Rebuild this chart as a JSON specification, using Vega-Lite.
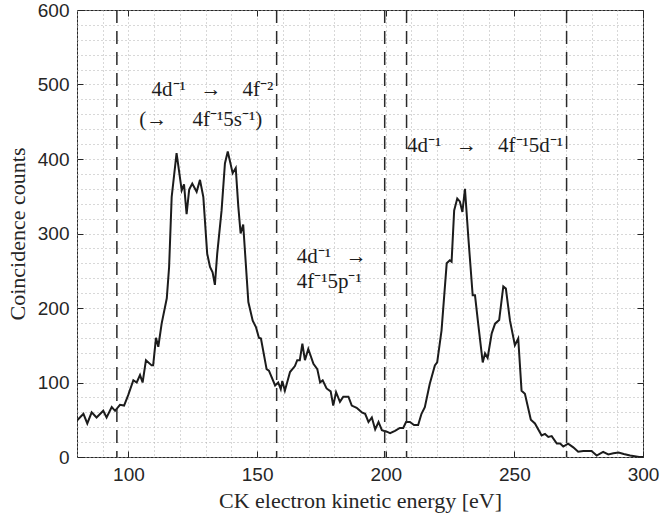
{
  "$schema": "https://vega.github.io/schema/vega-lite/v6.json",
  "width": 566,
  "height": 447,
  "autosize": {"type": "none"},
  "padding": {"left": 77, "top": 10, "right": 18, "bottom": 65},
  "background": "white",
  "config": {
    "view": {"stroke": "#262626", "strokeWidth": 1},
    "axis": {"domain": false}
  },
  "datasets": {
    "curve": [
      {"E": 80, "C": 49}, {"E": 82.5, "C": 58}, {"E": 84, "C": 45}, {"E": 85.7, "C": 60},
      {"E": 87.6, "C": 53}, {"E": 90.2, "C": 62}, {"E": 91.5, "C": 53}, {"E": 93.5, "C": 67},
      {"E": 94.8, "C": 62}, {"E": 96.7, "C": 70}, {"E": 98.3, "C": 69}, {"E": 99.9, "C": 83},
      {"E": 101.9, "C": 103}, {"E": 103.2, "C": 100}, {"E": 104.5, "C": 110}, {"E": 105.5, "C": 100},
      {"E": 106.8, "C": 130}, {"E": 109.0, "C": 123}, {"E": 109.6, "C": 123}, {"E": 110.7, "C": 160},
      {"E": 111.6, "C": 148}, {"E": 112.9, "C": 179}, {"E": 114.9, "C": 213}, {"E": 115.8, "C": 255},
      {"E": 116.8, "C": 349}, {"E": 118.7, "C": 408}, {"E": 120.7, "C": 358}, {"E": 121.6, "C": 366},
      {"E": 122.6, "C": 326}, {"E": 123.6, "C": 359}, {"E": 124.8, "C": 367}, {"E": 126.5, "C": 356},
      {"E": 127.8, "C": 372}, {"E": 129.1, "C": 349}, {"E": 130.6, "C": 273}, {"E": 131.7, "C": 255},
      {"E": 132.7, "C": 248}, {"E": 133.6, "C": 231}, {"E": 134.5, "C": 273}, {"E": 136.2, "C": 331},
      {"E": 137.5, "C": 394}, {"E": 138.6, "C": 410}, {"E": 140.5, "C": 381}, {"E": 141.7, "C": 388},
      {"E": 142.7, "C": 336}, {"E": 143.6, "C": 300}, {"E": 144.6, "C": 312}, {"E": 146.6, "C": 208},
      {"E": 148.3, "C": 183}, {"E": 149.6, "C": 174}, {"E": 150.7, "C": 160}, {"E": 151.5, "C": 159},
      {"E": 153.7, "C": 118}, {"E": 154.6, "C": 116}, {"E": 157, "C": 96}, {"E": 158.2, "C": 100},
      {"E": 159.2, "C": 91}, {"E": 159.8, "C": 102}, {"E": 160.8, "C": 89}, {"E": 162.8, "C": 114},
      {"E": 164.7, "C": 122}, {"E": 165.6, "C": 130}, {"E": 166.6, "C": 130}, {"E": 167.6, "C": 152},
      {"E": 168.6, "C": 130}, {"E": 169.9, "C": 145}, {"E": 171.9, "C": 125}, {"E": 173.4, "C": 118},
      {"E": 174.5, "C": 100}, {"E": 175.5, "C": 103}, {"E": 177, "C": 92}, {"E": 178.6, "C": 88},
      {"E": 179.6, "C": 69}, {"E": 180.7, "C": 87}, {"E": 182.2, "C": 74}, {"E": 183.5, "C": 81},
      {"E": 185.5, "C": 81}, {"E": 186.8, "C": 69}, {"E": 188.7, "C": 66}, {"E": 190.7, "C": 60},
      {"E": 192, "C": 58}, {"E": 193.3, "C": 47}, {"E": 194.6, "C": 53}, {"E": 195.9, "C": 37},
      {"E": 197.2, "C": 47}, {"E": 198.5, "C": 36}, {"E": 200.4, "C": 34}, {"E": 201.7, "C": 32},
      {"E": 203.6, "C": 35}, {"E": 205.5, "C": 39}, {"E": 206.8, "C": 39}, {"E": 207.9, "C": 47},
      {"E": 209.4, "C": 47}, {"E": 211, "C": 43}, {"E": 212.6, "C": 43}, {"E": 213.9, "C": 58},
      {"E": 215.2, "C": 67}, {"E": 217.1, "C": 98}, {"E": 219.1, "C": 123}, {"E": 220, "C": 127},
      {"E": 221.7, "C": 170}, {"E": 223.7, "C": 260}, {"E": 224.9, "C": 264}, {"E": 225.6, "C": 262},
      {"E": 226.6, "C": 331}, {"E": 227.8, "C": 347}, {"E": 228.8, "C": 343}, {"E": 229.8, "C": 329},
      {"E": 230.8, "C": 360}, {"E": 232.1, "C": 295}, {"E": 233.8, "C": 217}, {"E": 234.7, "C": 217},
      {"E": 236, "C": 177}, {"E": 237.7, "C": 127}, {"E": 238.6, "C": 139}, {"E": 239.6, "C": 133},
      {"E": 241.2, "C": 166}, {"E": 242.5, "C": 179}, {"E": 244.1, "C": 184}, {"E": 245.7, "C": 229},
      {"E": 246.7, "C": 226}, {"E": 248.3, "C": 183}, {"E": 250.2, "C": 150}, {"E": 251.5, "C": 159},
      {"E": 252.8, "C": 89}, {"E": 254.1, "C": 85}, {"E": 256.4, "C": 50}, {"E": 258, "C": 45},
      {"E": 260.6, "C": 29}, {"E": 261.9, "C": 31}, {"E": 263.2, "C": 27}, {"E": 264.5, "C": 28},
      {"E": 266.5, "C": 18}, {"E": 267.8, "C": 18}, {"E": 269, "C": 14}, {"E": 270.9, "C": 18},
      {"E": 272.9, "C": 13}, {"E": 274.8, "C": 7}, {"E": 276.8, "C": 8}, {"E": 280, "C": 8},
      {"E": 282, "C": 2}, {"E": 284.5, "C": 7}, {"E": 286.5, "C": 3.5}, {"E": 288.5, "C": 5},
      {"E": 290.5, "C": 6}, {"E": 292.5, "C": 4}, {"E": 295, "C": 2}, {"E": 298.5, "C": 0},
      {"E": 300, "C": 0}
    ],
    "edges": [
      {"E": 95.5}, {"E": 157.6}, {"E": 199.6}, {"E": 208.1}, {"E": 270.3}
    ],
    "labels": [
      {"E": 109.0, "C": 492, "text": "4d⁻¹\u2002\u2009→\u2002\u20024f⁻²"},
      {"E": 104.2, "C": 452, "text": "(→\u2002\u2002\u20094f⁻¹5s⁻¹)"},
      {"E": 165.4, "C": 268, "text": "4d⁻¹\u2002\u2009→"},
      {"E": 165.4, "C": 235, "text": "4f⁻¹5p⁻¹"},
      {"E": 208.3, "C": 418, "text": "4d⁻¹\u2002\u2009→\u2002\u20024f⁻¹5d⁻¹"}
    ]
  },
  "resolve": {"axis": {"x": "independent", "y": "independent"}},
  "layer": [
    {
      "data": {"name": "curve"},
      "mark": {"type": "line", "color": "#1c1c1c", "strokeWidth": 2, "clip": true},
      "encoding": {
        "x": {
          "field": "E", "type": "quantitative",
          "scale": {"domain": [80, 300], "nice": false, "zero": false},
          "axis": {
            "orient": "bottom",
            "title": "CK electron kinetic energy [eV]",
            "titleFont": "Liberation Serif", "titleFontSize": 22, "titleFontWeight": "normal",
            "titleColor": "#262626", "titlePadding": 6,
            "values": [80, 90, 100, 110, 120, 130, 140, 150, 160, 170, 180, 190, 200, 210, 220, 230, 240, 250, 260, 270, 280, 290, 300],
            "labelExpr": "datum.value % 50 === 0 ? datum.label : ''",
            "labelFont": "Liberation Sans", "labelFontSize": 19, "labelColor": "#262626",
            "labelPadding": 14, "labelFlush": false, "labelOverlap": false,
            "tickSize": -6, "tickColor": "#262626", "tickWidth": 1,
            "tickOpacity": {"expr": "datum.value % 50 === 0 ? 1 : 0"},
            "grid": true, "gridDash": [1, 3], "gridColor": "#b0b0b0", "gridWidth": 1
          }
        },
        "y": {
          "field": "C", "type": "quantitative",
          "scale": {"domain": [0, 600], "nice": false},
          "axis": {
            "orient": "left",
            "title": "Coincidence counts",
            "titleFont": "Liberation Serif", "titleFontSize": 22, "titleFontWeight": "normal",
            "titleColor": "#262626", "titlePadding": 8,
            "values": [0, 20, 40, 60, 80, 100, 120, 140, 160, 180, 200, 220, 240, 260, 280, 300, 320, 340, 360, 380, 400, 420, 440, 460, 480, 500, 520, 540, 560, 580, 600],
            "labelExpr": "datum.value % 100 === 0 ? datum.label : ''",
            "labelFont": "Liberation Sans", "labelFontSize": 19, "labelColor": "#262626",
            "labelPadding": 14, "labelFlush": false, "labelOverlap": false,
            "tickSize": -6, "tickColor": "#262626", "tickWidth": 1,
            "tickOpacity": {"expr": "datum.value % 100 === 0 ? 1 : 0"},
            "grid": true, "gridDash": [1, 3], "gridColor": "#b0b0b0", "gridWidth": 1
          }
        }
      }
    },
    {
      "data": {"name": "edges"},
      "mark": {"type": "rule", "color": "#2a2a2a", "strokeWidth": 1.5, "strokeDash": [13, 8]},
      "encoding": {
        "x": {
          "field": "E", "type": "quantitative",
          "axis": {
            "orient": "top", "title": null, "labels": false, "grid": false,
            "values": [100, 150, 200, 250, 300],
            "tickSize": -6, "tickColor": "#262626"
          }
        }
      }
    },
    {
      "data": {"name": "labels"},
      "mark": {"type": "text", "align": "left", "baseline": "middle", "font": "Liberation Serif", "fontSize": 21, "color": "#1c1c1c"},
      "encoding": {
        "x": {"field": "E", "type": "quantitative", "axis": null},
        "y": {
          "field": "C", "type": "quantitative",
          "axis": {
            "orient": "right", "title": null, "labels": false, "grid": false,
            "values": [0, 100, 200, 300, 400, 500, 600],
            "tickSize": -6, "tickColor": "#262626"
          }
        },
        "text": {"field": "text"}
      }
    }
  ]
}
